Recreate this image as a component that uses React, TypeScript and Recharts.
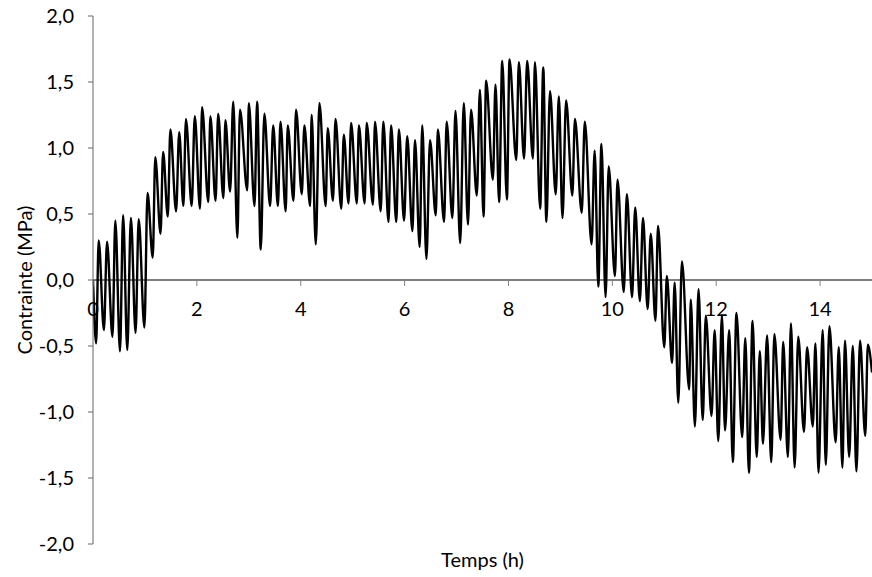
import React from 'react';
import { LineChart, Line, XAxis, YAxis, ReferenceLine } from 'recharts';

const TIMES = [
  0.0, 0.06, 0.11, 0.21, 0.27, 0.375, 0.43, 0.52, 0.58, 0.66, 0.73, 0.82, 0.88, 0.99,
  1.05, 1.15, 1.2, 1.3, 1.35, 1.44, 1.49, 1.6, 1.66, 1.74, 1.79, 1.9, 1.96,
  2.06, 2.1, 2.22, 2.26, 2.36, 2.41, 2.51, 2.55, 2.64, 2.7, 2.78, 2.83, 2.97,
  3.0, 3.11, 3.16, 3.23, 3.3, 3.41, 3.47, 3.56, 3.61, 3.71, 3.75, 3.86, 3.91,
  4.02, 4.07, 4.18, 4.21, 4.29, 4.36, 4.48, 4.52, 4.62, 4.67, 4.78, 4.83, 4.92, 4.97,
  5.08, 5.12, 5.23, 5.27, 5.39, 5.43, 5.54, 5.59, 5.69, 5.74, 5.84, 5.89, 5.99,
  6.05, 6.15, 6.2, 6.29, 6.34, 6.42, 6.49, 6.6, 6.64, 6.76, 6.81, 6.92, 6.98,
  7.07, 7.14, 7.22, 7.28, 7.39, 7.45, 7.52, 7.57, 7.7, 7.75, 7.82, 7.88, 7.97,
  8.02, 8.15, 8.2, 8.3, 8.36, 8.47, 8.51, 8.61, 8.67, 8.73, 8.8, 8.91, 8.97,
  9.04, 9.11, 9.23, 9.28, 9.41, 9.47, 9.6, 9.66, 9.73, 9.79, 9.87, 9.93,
  10.05, 10.1, 10.22, 10.28, 10.38, 10.44, 10.53, 10.59, 10.68, 10.74, 10.83, 10.88,
  11.0, 11.05, 11.15, 11.2, 11.27, 11.34, 11.48, 11.51, 11.59, 11.66, 11.74, 11.8, 11.91, 11.97,
  12.04, 12.11, 12.17, 12.25, 12.32, 12.39, 12.5, 12.56, 12.63, 12.7, 12.78, 12.84, 12.9, 12.98,
  13.06, 13.12, 13.24, 13.29, 13.38, 13.44, 13.51, 13.58, 13.69, 13.75, 13.86, 13.91, 13.97,
  14.05, 14.11, 14.18, 14.3, 14.36, 14.43, 14.48, 14.56, 14.63, 14.7, 14.77, 14.87, 14.92,
  15.0,
];

const STRESS = [
  0.0, -0.48, 0.3, -0.38, 0.29, -0.43, 0.45, -0.54, 0.49, -0.53, 0.47, -0.4, 0.46, -0.36,
  0.66, 0.17, 0.93, 0.35, 0.97, 0.48, 1.14, 0.52, 1.12, 0.56, 1.22, 0.56, 1.24,
  0.54, 1.31, 0.59, 1.24, 0.6, 1.26, 0.62, 1.21, 0.67, 1.35, 0.32, 1.29, 0.68,
  1.34, 0.56, 1.35, 0.23, 1.26, 0.56, 1.17, 0.56, 1.2, 0.52, 1.17, 0.6, 1.29,
  0.65, 1.17, 0.56, 1.25, 0.27, 1.34, 0.56, 1.15, 0.6, 1.22, 0.54, 1.1, 0.58, 1.19,
  0.58, 1.17, 0.58, 1.19, 0.57, 1.2, 0.52, 1.2, 0.44, 1.17, 0.44, 1.14, 0.45,
  1.09, 0.37, 1.06, 0.25, 1.17, 0.16, 1.06, 0.49, 1.14, 0.44, 1.2, 0.47, 1.28,
  0.28, 1.34, 0.42, 1.29, 0.64, 1.44, 0.48, 1.51, 0.76, 1.48, 0.59, 1.66, 0.61,
  1.67, 0.91, 1.65, 0.92, 1.66, 0.92, 1.65, 0.54, 1.61, 0.44, 1.43, 0.65, 1.39,
  0.47, 1.36, 0.64, 1.22, 0.51, 1.2, 0.27, 0.98, -0.05, 1.03, -0.13, 0.86,
  0.03, 0.76, -0.09, 0.65, -0.13, 0.55, -0.16, 0.47, -0.22, 0.35, -0.31, 0.41,
  -0.51, 0.03, -0.63, -0.02, -0.93, 0.14, -0.83, -0.15, -1.11, -0.07, -1.06, -0.27, -1.03, -0.38,
  -1.22, -0.27, -1.14, -0.38, -1.38, -0.25, -1.19, -0.44, -1.46, -0.31, -1.34, -0.54, -1.24, -0.42,
  -1.38, -0.41, -1.21, -0.47, -1.34, -0.33, -1.42, -0.43, -1.15, -0.51, -1.11, -0.48, -1.46,
  -0.38, -1.4, -0.35, -1.23, -0.51, -1.42, -0.46, -1.34, -0.5, -1.45, -0.46, -1.18, -0.49,
  -0.7,
];

const X_TICKS = [0, 2, 4, 6, 8, 10, 12, 14];
const Y_TICKS = [-2, -1.5, -1, -0.5, 0, 0.5, 1, 1.5, 2];
const X_DOMAIN = [0, 15];
const Y_DOMAIN = [-2, 2];
const X_TITLE = 'Temps (h)';
const Y_TITLE = 'Contrainte (MPa)';

const data = TIMES.map((t, i) => ({ t, v: STRESS[i] }));

const W = 872;
const H = 577;
const XAXIS_H = 33;
const MARGIN = { top: 16, right: 0, bottom: 0, left: 0 };
const YAXIS_W = 93;
const FONT = 'Lato, "Open Sans", sans-serif';
const FS = 20;
const PLOT_H = H - MARGIN.top - MARGIN.bottom - XAXIS_H;
const ZERO_Y = MARGIN.top + (PLOT_H * (Y_DOMAIN[1] - 0)) / (Y_DOMAIN[1] - Y_DOMAIN[0]);

const fmt = (v: number) => v.toFixed(1).replace('.', ',');

function XTick(props: any) {
  const { x, payload } = props;
  return (
    <g>
      <line x1={x} x2={x} y1={ZERO_Y} y2={ZERO_Y + 6} stroke="#808080" strokeWidth={1} />
      <text x={x} y={ZERO_Y + 36} textAnchor="middle" fontFamily={FONT} fontSize={FS} fill="#000">
        {payload.value}
      </text>
    </g>
  );
}

export default function App() {
  return (
    <div style={{ position: 'absolute', left: 0, top: 0, background: '#fff' }}>
      <LineChart width={W} height={H} data={data} margin={MARGIN}>
        <XAxis
          dataKey="t"
          type="number"
          domain={X_DOMAIN}
          ticks={X_TICKS}
          interval={0}
          height={XAXIS_H}
          axisLine={false}
          tickLine={false}
          tick={<XTick />}
          allowDataOverflow
          label={{
            value: X_TITLE,
            position: 'insideBottom',
            offset: 10,
            style: { fontFamily: FONT, fontSize: FS, fill: '#000' },
          }}
        />
        <YAxis
          type="number"
          domain={Y_DOMAIN}
          ticks={Y_TICKS}
          interval={0}
          width={YAXIS_W}
          tickFormatter={fmt}
          tickSize={5}
          tickMargin={14}
          axisLine={{ stroke: '#666', strokeWidth: 1 }}
          tickLine={{ stroke: '#666', strokeWidth: 1 }}
          tick={{ fontFamily: FONT, fontSize: FS, fill: '#000' }}
          allowDataOverflow
          label={{
            value: Y_TITLE,
            angle: -90,
            position: 'insideLeft',
            offset: 25,
            style: { fontFamily: FONT, fontSize: FS, fill: '#000', textAnchor: 'middle' },
          }}
        />
        <ReferenceLine y={0} stroke="#000" strokeWidth={1.2} />
        <Line
          type="monotone"
          dataKey="v"
          stroke="#000"
          strokeWidth={2.4}
          dot={false}
          isAnimationActive={false}
        />
      </LineChart>
    </div>
  );
}
